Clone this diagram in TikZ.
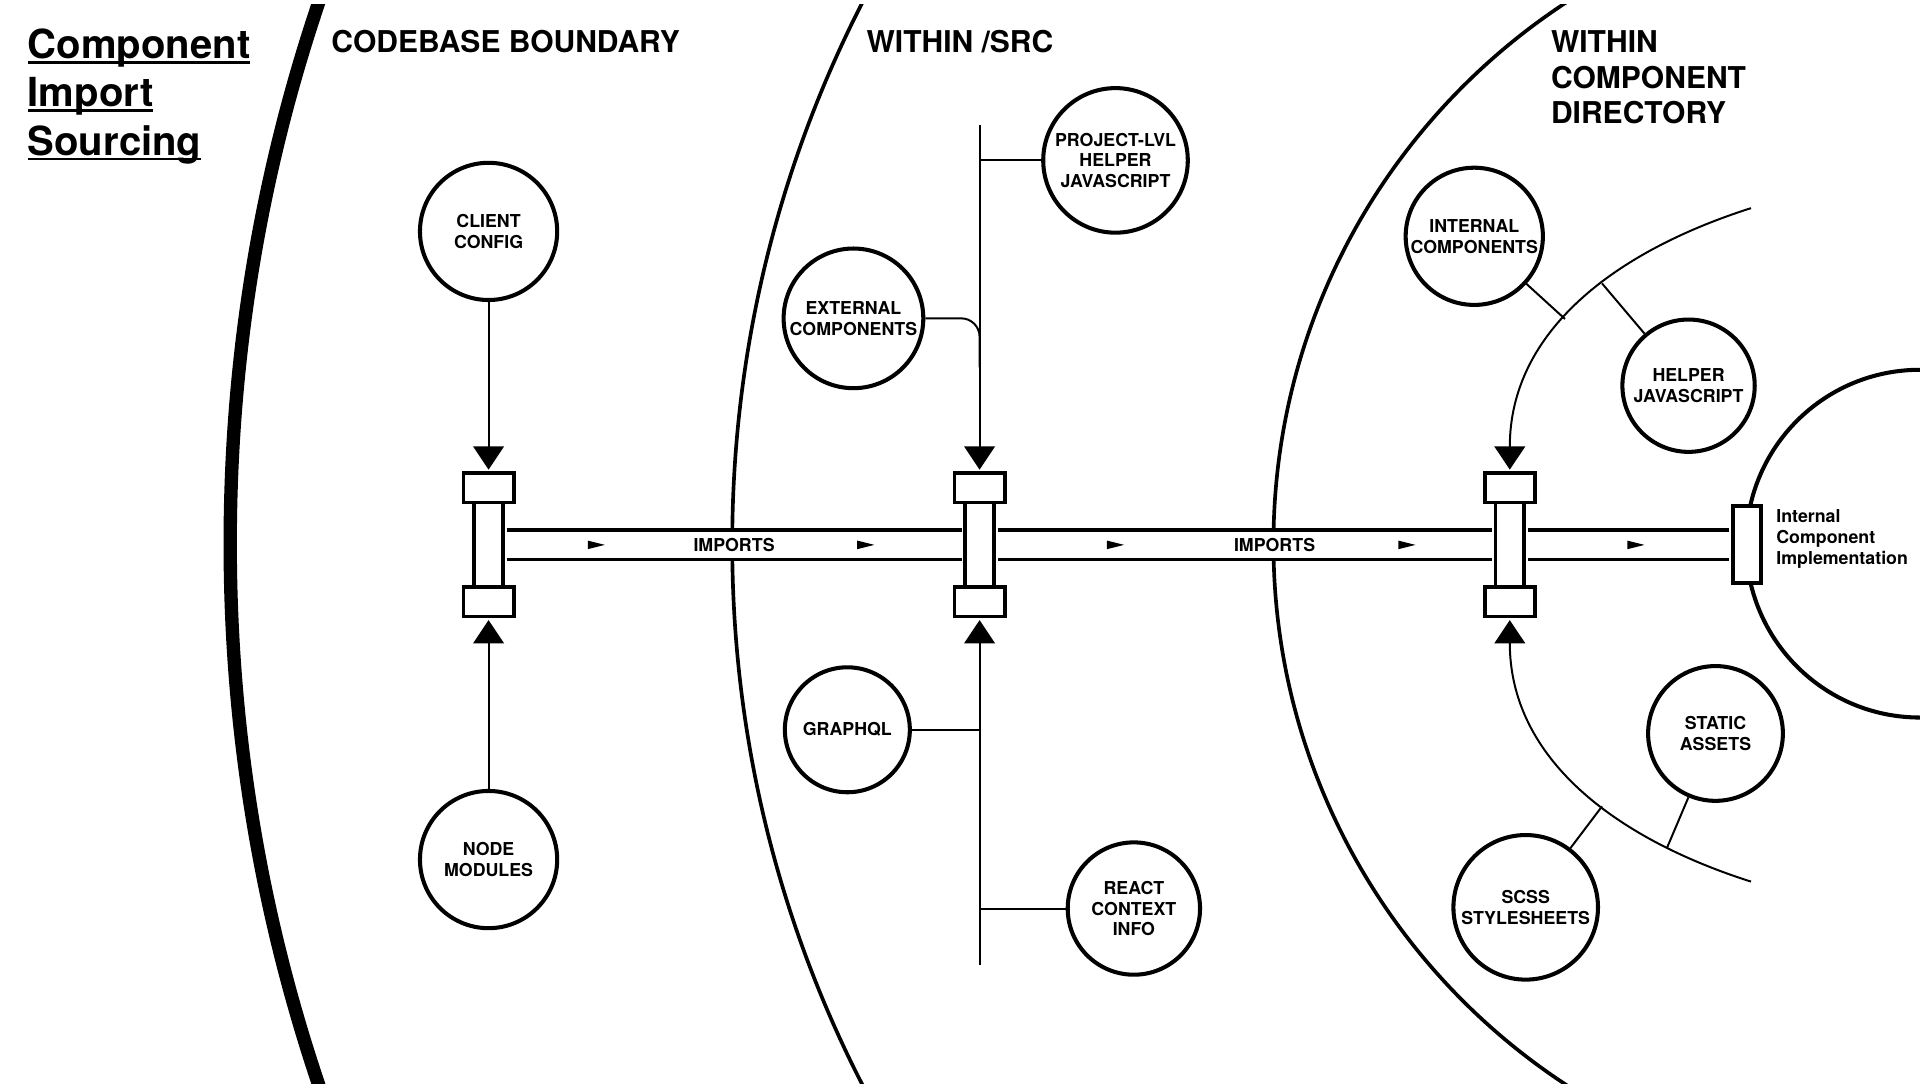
\documentclass[tikz,border=0pt]{standalone}
\usepackage{fontspec}
\setmainfont{TeX Gyre Heros}
\usetikzlibrary{arrows.meta}
\newcommand{\uword}[1]{\setbox0=\hbox{#1}\rlap{\rule[-1.2pt]{\wd0}{0.6pt}}\box0}

\begin{document}
\begin{tikzpicture}[x=0.01cm,y=-0.01cm,
    comp/.style={circle,draw,line width=0.94pt,fill=white,inner sep=0pt,align=center,font=\fontsize{4.13pt}{4.84pt}\selectfont\bfseries},
    lid/.style={rectangle,draw,line width=0.85pt,fill=white,minimum width=0.41cm,minimum height=0.24cm,inner sep=0pt},
    pipe/.style={rectangle,draw,line width=0.85pt,fill=white,minimum width=0.235cm,minimum height=0.9cm,inner sep=0pt},
    tube/.style={line width=0.77pt,double=white,double distance=0.216cm,shorten <=0.4pt,shorten >=0.4pt},
    tubetext/.style={inner sep=0pt,font=\fontsize{4.13pt}{4.84pt}\selectfont\bfseries},
    link/.style={line width=0.46pt},
    feed/.style={line width=0.46pt,-{Triangle[width=0.25cm,length=0.19cm]},shorten >=0.4pt},
    zonehead/.style={inner sep=0pt,align=left,font=\fontsize{6.97pt}{8.25pt}\selectfont\bfseries}]
    \useasboundingbox (0,0) rectangle (1568,889);
    \clip (0,0) rectangle (1568,889);
    \begin{scope}
        \clip (0,4) rectangle (1568,885);
        \draw [line width=3.1pt] (1568,444) circle [radius=1380];
        \draw [line width=0.85pt] (1568,444) circle [radius=970];
        \draw [line width=0.85pt] (1568,444) circle [radius=528];
    \end{scope}
    \draw [line width=0.94pt] (1568,444) circle [radius=142];
    \node[rectangle,draw,line width=0.94pt,fill=white,minimum width=0.23cm,minimum height=0.63cm,inner sep=0pt] (endr) at (1426.5,445) {};
    \foreach \j/\x in {A/399,B/800,C/1233} {
        \node[pipe] (vt\j) at (\x,445) {};
        \node[lid] (lid\j1) at (vt\j.north) {};
        \node[lid] (lid\j2) at (vt\j.south) {};
    }
    \draw[tube] (vtA) -- node[tubetext] (imp1) {IMPORTS} (vtB);
    \draw[tube] (vtB) -- node[tubetext,pos=0.56] (imp2) {IMPORTS} (vtC);
    \draw[tube] (vtC) -- (endr);
    \foreach \x in {487,707,911,1149,1336}
        \fill (\x-7,441.5) -- (\x+7,445) -- (\x-7,448.5) -- cycle;

    \node[anchor=north west,inner sep=0pt,align=left,font=\fontsize{9.3pt}{11.2pt}\selectfont\bfseries] (title) at (22,23) {\uword{Component}\\\uword{Import}\\\uword{Sourcing}};
    \node[zonehead,anchor=base west] (zone1) at (270,42.5) {CODEBASE BOUNDARY};
    \node[zonehead,anchor=base west] (zone2) at (707,42.5) {WITHIN /SRC};
    \node[zonehead,anchor=north west] (zone3) at (1266,24.6) {WITHIN\\COMPONENT\\DIRECTORY};
    \node[anchor=north west,inner sep=0pt,align=left,font=\fontsize{4.13pt}{4.84pt}\selectfont\bfseries] (impl) at (1450,415.5) {Internal\\Component\\Implementation};

    \node[comp,minimum size=1.12cm] (client) at (399,189) {CLIENT\\CONFIG};
    \node[comp,minimum size=1.12cm] (nodemods) at (399,702) {NODE\\MODULES};
    \node[comp,minimum size=1.18cm] (project) at (911,131) {PROJECT-LVL\\HELPER\\JAVASCRIPT};
    \node[comp,minimum size=1.14cm] (external) at (697,260) {EXTERNAL\\COMPONENTS};
    \node[comp,minimum size=1.02cm] (graphql) at (692,596) {GRAPHQL};
    \node[comp,minimum size=1.08cm] (react) at (926,742) {REACT\\CONTEXT\\INFO};
    \node[comp,minimum size=1.12cm] (internal) at (1204,193) {INTERNAL\\COMPONENTS};
    \node[comp,minimum size=1.08cm] (helper) at (1379,315) {HELPER\\JAVASCRIPT};
    \node[comp,minimum size=1.10cm] (static) at (1401,599) {STATIC\\ASSETS};
    \node[comp,minimum size=1.18cm] (scss) at (1246,741) {SCSS\\STYLESHEETS};

    \coordinate (srctop) at (800,102);
    \coordinate (srcbot) at (800,788);
    \coordinate (extjoin) at (800,300);
    \coordinate (inA) at (1430,170);
    \coordinate (inB) at (1430,720);
    \draw[feed] (client) -- (lidA1.north);
    \draw[feed] (nodemods) -- (lidA2.south);
    \draw[feed] (srctop) -- (lidB1.north);
    \draw[feed] (srcbot) -- (lidB2.south);
    \draw[link] (project) -- (project -| srctop);
    \draw[link,rounded corners=0.15cm] (external) -| (extjoin);
    \draw[link] (graphql) -- (graphql -| srcbot);
    \draw[link] (react) -- (react -| srcbot);
    \draw[feed] (inA) .. controls (1320,205) and (1233,270) .. (lidC1.north) coordinate[pos=0.42] (helpjoin) coordinate[pos=0.56] (intjoin);
    \draw[feed] (inB) .. controls (1320,685) and (1233,620) .. (lidC2.south) coordinate[pos=0.42] (scssjoin) coordinate[pos=0.22] (statjoin);
    \draw[link] (internal) -- (intjoin);
    \draw[link] (helper) -- (helpjoin);
    \draw[link] (scss) -- (scssjoin);
    \draw[link] (static) -- (statjoin);
\end{tikzpicture}
\end{document}
